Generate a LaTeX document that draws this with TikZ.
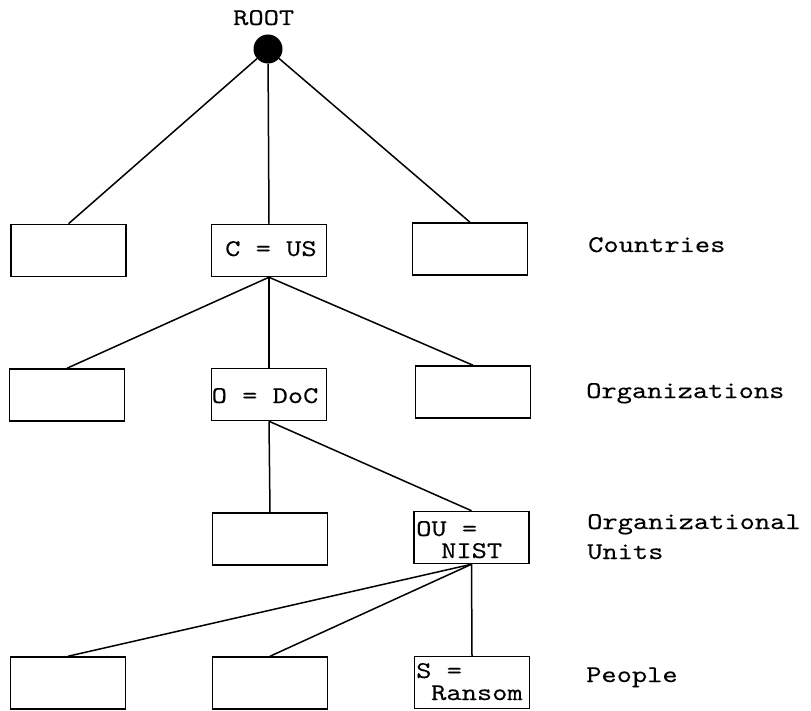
\documentclass[tikz,border=0pt]{standalone}
\usepackage{fontspec}
\setmonofont{lmmono10-regular}[Extension=.otf, FakeStretch=1.21, FakeBold=0.12]
% one full character cell of blank space
\newcommand\tsp{\hphantom{x}}
\begin{document}
\begin{tikzpicture}[x=1pt,y=-1pt,
  every node/.style={font=\ttfamily\fontsize{24}{24}\selectfont},
  box/.style={draw, line width=1.5pt, minimum width=115pt, minimum height=52pt,
              inner sep=0pt},
  txt/.style={anchor=base west, inner sep=0pt},
  edge/.style={line width=1.5pt}]
\useasboundingbox (0,0) rectangle (811,711);

% root of the directory tree
\node[txt] (rootlbl) at (233,25) {ROOT};
\node[circle, fill=black, minimum size=29pt, inner sep=0pt] (root) at (268,49) {};

% countries
\node[box] (c1) at (68.5,250.5) {};
\node[box] (c2) at (269,250.5) {};
\node[box] (c3) at (470,249) {};
\node[txt] (c2t) at (225,256) {C\tsp=\tsp US};

% organizations
\node[box] (o1) at (67,395) {};
\node[box] (o2) at (269,394.5) {};
\node[box] (o3) at (473,392) {};
\node[txt] (o2t) at (211.5,403) {O\tsp=\tsp DoC};

% organizational units
\node[box] (u1) at (270,539) {};
\node[box] (u2) at (471.5,537.5) {};
\node[txt] (u2a) at (416,536) {OU\tsp=};
\node[txt] (u2b) at (441,558) {NIST};

% people
\node[box] (p1) at (68,683) {};
\node[box] (p2) at (270,683) {};
\node[box] (p3) at (472,682.5) {};
\node[txt] (p3a) at (416,678) {S\tsp=};
\node[txt] (p3b) at (431,700) {Ransom};

% level labels
\node[txt] (lc) at (588,252) {Countries};
\node[txt] (lo) at (586,398) {Organizations};
\node[txt] (lu1) at (587,529) {Organizational};
\node[txt] (lu2) at (587,559) {Units};
\node[txt] (lp) at (586,682) {People};

% connectors
\draw[edge] (root) -- (c1.north);
\draw[edge] (root) -- (c2.north);
\draw[edge] (root) -- (c3.north);
\draw[edge] (c2.south) -- (o1.north);
\draw[edge] (c2.south) -- (o2.north);
\draw[edge] (c2.south) -- (o3.north);
\draw[edge] (o2.south) -- (u1.north);
\draw[edge] (o2.south) -- (u2.north);
\draw[edge] (u2.south) -- (p1.north);
\draw[edge] (u2.south) -- (p2.north);
\draw[edge] (u2.south) -- (p3.north);
\end{tikzpicture}
\end{document}
